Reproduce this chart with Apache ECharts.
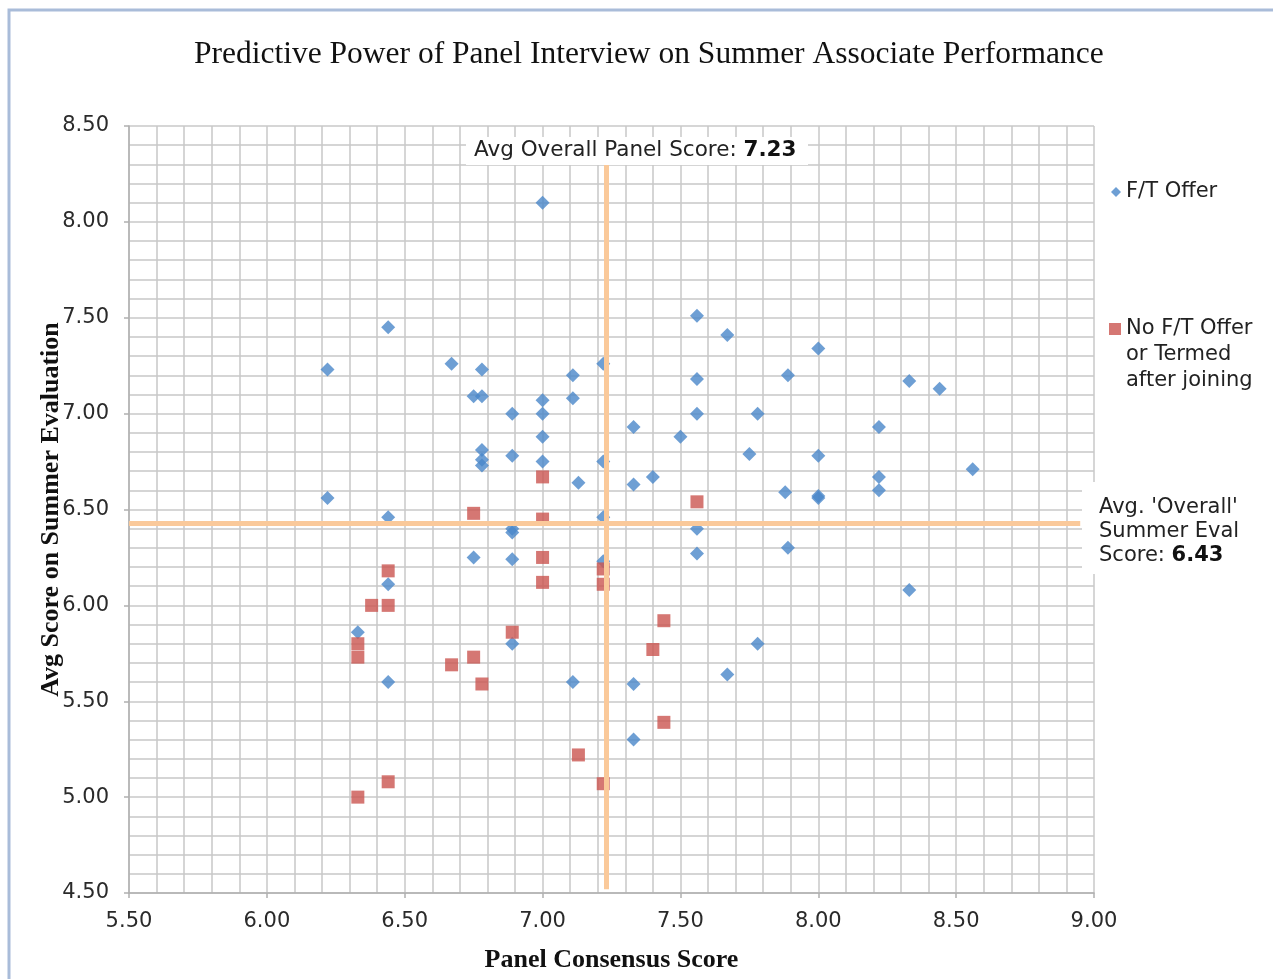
<!DOCTYPE html>
<html>
<head>
<meta charset="utf-8">
<style>html,body{margin:0;padding:0;background:#fff;}#chart{width:1273px;height:979px;}</style>
<script src="https://cdn.jsdelivr.net/npm/echarts@6/dist/echarts.min.js"></script>
</head>
<body>
<div id="chart"></div>
<script>
// ---- data ----
const ftX = [7.00,6.22,6.22,6.44,6.44,6.44,6.44,6.33,6.67,6.75,6.78,6.78,6.78,6.78,6.78,6.75,6.89,6.89,6.89,6.89,6.89,6.89,7.00,7.00,7.00,7.00,7.11,7.11,7.13,7.11,7.22,7.22,7.22,7.22,7.33,7.33,7.33,7.33,7.40,7.50,7.56,7.56,7.56,7.56,7.56,7.67,7.67,7.75,7.78,7.78,7.89,7.88,7.89,8.00,8.00,8.00,8.00,8.22,8.22,8.22,8.33,8.33,8.44,8.56];
const ftY = [8.10,7.23,6.56,7.45,6.46,6.11,5.60,5.86,7.26,7.09,7.09,7.23,6.81,6.76,6.73,6.25,7.00,6.78,6.40,6.38,6.24,5.80,7.07,7.00,6.88,6.75,7.20,7.08,6.64,5.60,7.26,6.75,6.46,6.23,6.93,6.63,5.59,5.30,6.67,6.88,7.51,7.18,7.00,6.40,6.27,7.41,5.64,6.79,7.00,5.80,7.20,6.59,6.30,7.34,6.78,6.57,6.56,6.93,6.67,6.60,7.17,6.08,7.13,6.71];
const noX = [7.00,6.75,7.00,7.00,7.00,6.44,6.38,6.44,6.33,6.33,6.67,6.75,6.78,6.89,6.44,6.33,7.13,7.22,7.22,7.22,7.56,7.44,7.40,7.44];
const noY = [6.67,6.48,6.45,6.25,6.12,6.18,6.00,6.00,5.80,5.73,5.69,5.73,5.59,5.86,5.08,5.00,5.22,6.19,6.11,5.07,6.54,5.92,5.77,5.39];
const seriesNames = ['F/T Offer', 'No F/T Offer\nor Termed\nafter joining'];
const AVG_PANEL = 7.23;
const AVG_EVAL = 6.43;
const xTicks = [5.5, 9.0, 0.5];
const yTicks = [4.5, 8.5, 0.5];
const titleText = 'Predictive Power of Panel Interview on Summer Associate Performance';
const xName = 'Panel Consensus Score';
const yName = 'Avg Score on Summer Evaluation';

const zip = (a, b) => a.map((v, i) => [v, b[i]]);
const sans = 'DejaVu Sans';
const serif = 'Liberation Serif';
const FS = 21;

const chart = echarts.init(document.getElementById('chart'), null, {renderer: 'canvas'});
const gridColor = '#c8c8c8';
const axisCommon = {
  axisLine: {show: true, lineStyle: {color: '#b0b0b0', width: 1.5}},
  axisTick: {show: true, length: 5, lineStyle: {color: '#b0b0b0', width: 1.5}},
  splitLine: {show: true, lineStyle: {color: gridColor, width: 1.5}},
  minorTick: {show: false, splitNumber: 5},
  minorSplitLine: {show: true, lineStyle: {color: gridColor, width: 1.5}},
  axisLabel: {fontFamily: sans, fontSize: FS, color: '#2a2a2a', formatter: v => v.toFixed(2)},
  nameLocation: 'middle',
  nameMoveOverlap: false,
  nameTextStyle: {fontFamily: serif, fontWeight: 'bold', fontSize: 26, color: '#111'}
};

chart.setOption({
  animation: false,
  backgroundColor: '#fff',
  title: {
    text: titleText, left: 189, top: 34,
    textStyle: {fontFamily: serif, fontWeight: 'normal', fontSize: 31.5, color: '#111'}
  },
  grid: {left: 129, right: 179, top: 126, bottom: 86},
  xAxis: Object.assign({}, axisCommon, {
    type: 'value', min: xTicks[0], max: xTicks[1], interval: xTicks[2],
    name: xName, nameGap: 54,
    axisLabel: Object.assign({}, axisCommon.axisLabel, {margin: 18})
  }),
  yAxis: Object.assign({}, axisCommon, {
    type: 'value', min: yTicks[0], max: yTicks[1], interval: yTicks[2],
    name: yName, nameGap: 65,
    axisLabel: Object.assign({}, axisCommon.axisLabel, {margin: 20})
  }),
  legend: [
    {
      data: [{name: seriesNames[0], icon: 'diamond'}], orient: 'vertical', left: 1111, top: 179,
      itemWidth: 10, itemHeight: 10, itemGap: 0, padding: 0,
      textStyle: {fontFamily: sans, fontSize: FS, color: '#222', lineHeight: 26}
    },
    {
      data: [{name: seriesNames[1], icon: 'rect'}], orient: 'vertical', left: 1109, top: 264,
      itemWidth: 12, itemHeight: 12, itemGap: 0, padding: 0,
      formatter: n => '\n\n' + n,
      textStyle: {fontFamily: sans, fontSize: FS, color: '#222', lineHeight: 26}
    }
  ],
  graphic: [
    {type: 'rect', shape: {x: 9, y: 10, width: 1320, height: 1020}, style: {fill: 'none', stroke: '#a9bcd9', lineWidth: 3}, z: 100},
    {type: 'rect', shape: {x: 1082, y: 482, width: 200, height: 92}, style: {fill: '#fff'}, z: 50},
    {type: 'text', left: 1099, top: 496, z: 60,
      style: {text: "Avg. 'Overall'\nSummer Eval\n{n|Score:} {b|6.43}", fontFamily: sans, fontSize: FS, lineHeight: 24, fill: '#222',
        rich: {n: {fontFamily: sans, fontSize: FS, fill: '#222', lineHeight: 24}, b: {fontFamily: sans, fontSize: FS, fontWeight: 'bold', fill: '#111', lineHeight: 24}}}},
    {type: 'rect', shape: {x: 466, y: 137, width: 342, height: 28}, style: {fill: '#fff'}, z: 50},
    {type: 'text', left: 474, top: 139, z: 60,
      style: {text: 'Avg Overall Panel Score: {b|7.23}', fontFamily: sans, fontSize: 21.5, fill: '#222',
        rich: {b: {fontFamily: sans, fontSize: 21.5, fontWeight: 'bold', fill: '#111'}}}}
  ],
  series: [
    {
      name: seriesNames[0], type: 'scatter', symbol: 'diamond', symbolSize: [14, 14],
      itemStyle: {color: '#4A87C9'}, data: zip(ftX, ftY), z: 3
    },
    {
      name: seriesNames[1], type: 'scatter', symbol: 'rect', symbolSize: [13, 13],
      itemStyle: {color: '#CA5550'}, data: zip(noX, noY), z: 4
    },
    {
      type: 'scatter', data: [], z: 10, silent: true,
      markLine: {
        silent: true, symbol: 'none', animation: false,
        label: {show: false},
        lineStyle: {color: '#FAC99A', width: 5, type: 'solid', opacity: 1},
        data: [
          [{coord: [AVG_PANEL, 4.52]}, {coord: [AVG_PANEL, 8.30]}],
          [{coord: [5.5, AVG_EVAL]}, {coord: [8.95, AVG_EVAL]}]
        ]
      }
    }
  ]
});
</script>
</body>
</html>
